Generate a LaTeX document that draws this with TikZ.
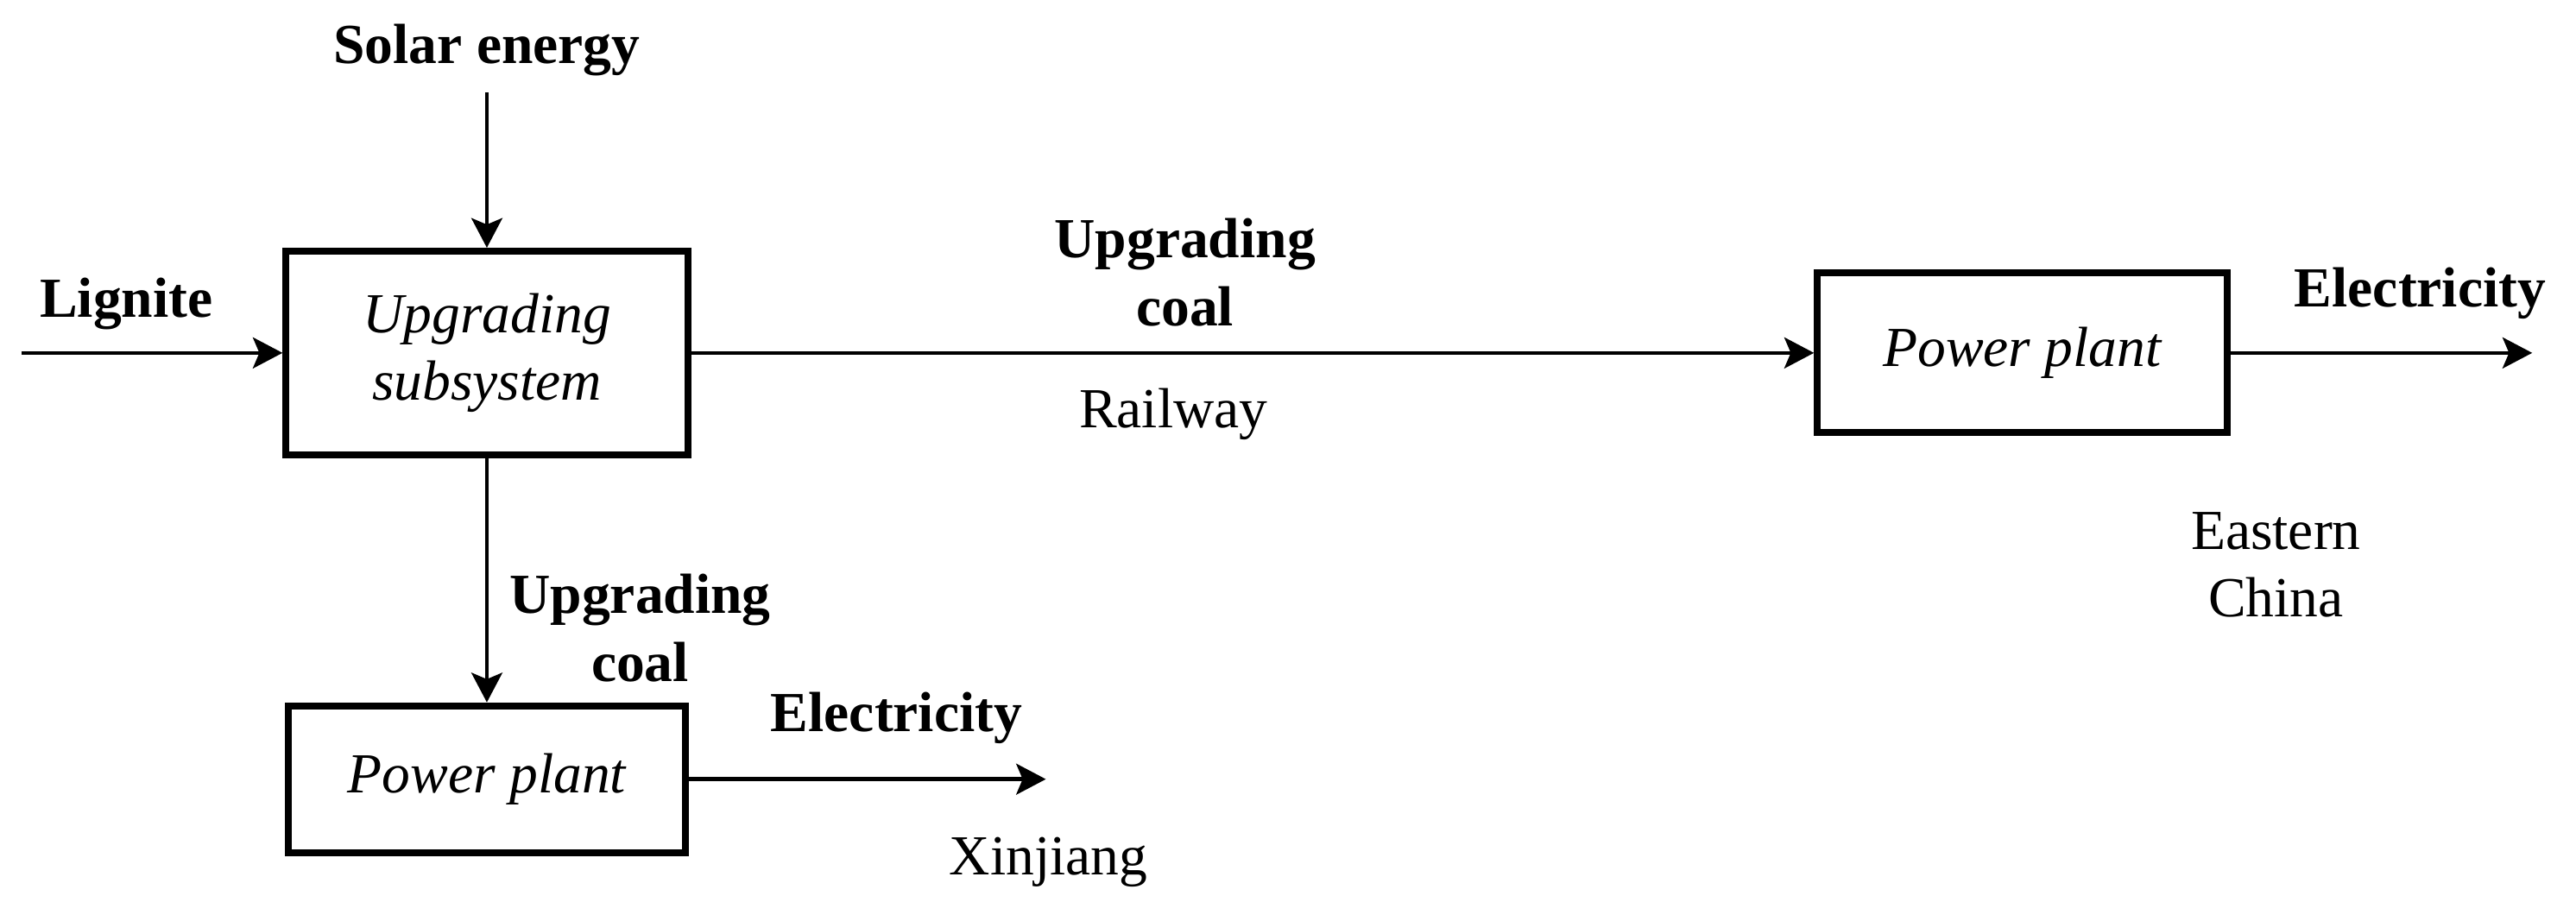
\documentclass[tikz,border=0pt]{standalone}
\usepackage{fontspec}
\setmainfont{Liberation Serif}
\usetikzlibrary{arrows.meta}
\newcommand{\lblsize}{\fontsize{12.5}{15}\selectfont}
\tikzset{
  unit/.style={draw, line width=1.5pt, inner sep=0pt, align=center, font=\lblsize\itshape},
  flow/.style={line width=0.85pt, -{Stealth[length=0.23cm, width=0.24cm, inset=0.05cm]}},
  lbl/.style={anchor=base, align=center, inner sep=0pt, font=\lblsize\bfseries},
  place/.style={anchor=base, align=center, inner sep=0pt, font=\lblsize}
}
\begin{document}
\begin{tikzpicture}
\useasboundingbox (0,0) rectangle (20,-7.145);
\node[unit, minimum width=3.12cm, minimum height=1.58cm] (upgrade) at (3.78,-2.74) {Upgrading\\subsystem};
\node[unit, minimum width=3.08cm, minimum height=1.14cm] (plantX) at (3.78,-6.05) {Power plant};
\node[unit, minimum width=3.18cm, minimum height=1.24cm] (plantE) at (15.70,-2.74) {Power plant};
\coordinate (sun) at (3.78,-0.72);
\coordinate (coal) at (0.17,-2.74);
\coordinate (outX) at (8.12,-6.05);
\coordinate (outE) at (19.66,-2.74);
\draw[flow] (sun) -- (upgrade.north);
\draw[flow] (coal) -- (upgrade.west);
\draw[flow] (upgrade.east) -- (plantE.west);
\draw[flow] (upgrade.south) -- (plantX.north);
\draw[flow] (plantX.east) -- (outX);
\draw[flow] (plantE.east) -- (outE);
\node[lbl] (solar) at (3.78,-0.49) {Solar energy};
\node[lbl] (lignite) at (0.98,-2.46) {Lignite};
\node[lbl] (coalE) at (9.20,-2.53) {Upgrading\\coal};
\node[place] (rail) at (9.11,-3.32) {Railway};
\node[lbl] (elecE) at (18.79,-2.38) {Electricity};
\node[place] (east) at (17.67,-4.79) {Eastern\\China};
\node[lbl] (coalX) at (4.97,-5.29) {Upgrading\\coal};
\node[lbl] (elecX) at (6.96,-5.68) {Electricity};
\node[place] (xj) at (8.14,-6.79) {Xinjiang};
\end{tikzpicture}
\end{document}
